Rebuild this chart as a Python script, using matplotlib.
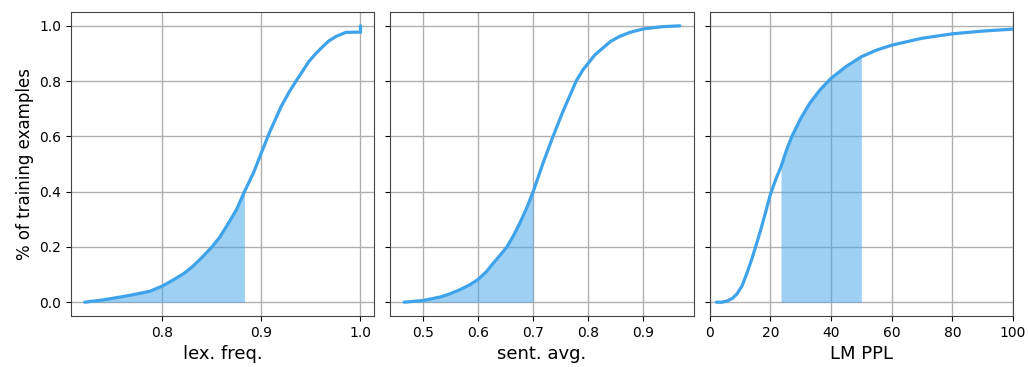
import matplotlib
matplotlib.use("Agg")
import matplotlib.pyplot as plt
from matplotlib.ticker import MultipleLocator

# CDF curves
lex_x = [0.722, 0.74, 0.76, 0.775, 0.788, 0.80, 0.81, 0.822, 0.83, 0.838, 0.85, 0.858,
         0.865, 0.875, 0.883, 0.892, 0.90, 0.908, 0.92, 0.928, 0.935, 0.948, 0.955,
         0.962, 0.968, 0.975, 0.985, 0.992, 1.0, 1.0]
lex_y = [0.0, 0.008, 0.02, 0.03, 0.04, 0.058, 0.078, 0.104, 0.127, 0.154, 0.199, 0.235,
         0.275, 0.335, 0.40, 0.467, 0.54, 0.612, 0.708, 0.76, 0.80, 0.871, 0.90,
         0.925, 0.945, 0.961, 0.976, 0.977, 0.977, 1.0]
lex_cut = 0.883

sent_x = [0.466, 0.50, 0.532, 0.55, 0.568, 0.585, 0.60, 0.615, 0.628, 0.64, 0.652,
          0.664, 0.676, 0.688, 0.70, 0.718, 0.736, 0.754, 0.766, 0.778, 0.79, 0.80,
          0.812, 0.826, 0.84, 0.856, 0.875, 0.90, 0.935, 0.966]
sent_y = [0.0, 0.006, 0.019, 0.031, 0.046, 0.063, 0.082, 0.11, 0.142, 0.17, 0.199,
          0.24, 0.287, 0.34, 0.40, 0.504, 0.60, 0.69, 0.745, 0.80, 0.84, 0.865,
          0.895, 0.919, 0.943, 0.961, 0.976, 0.989, 0.997, 1.0]
sent_cut = 0.70

ppl_x = [2.2, 4, 5.7, 7.5, 9.0, 10.7, 12.3, 13.7, 15.1, 16.5, 17.8, 20.0, 21.8, 23.5,
         25.3, 27.1, 30, 33, 36.5, 40.0, 45, 50, 55, 60, 70, 80, 90, 100]
ppl_y = [0.0, 0.0, 0.004, 0.014, 0.03, 0.06, 0.106, 0.15, 0.199, 0.25, 0.30, 0.39,
         0.445, 0.49, 0.55, 0.60, 0.665, 0.72, 0.77, 0.81, 0.853, 0.888, 0.912, 0.93,
         0.955, 0.971, 0.981, 0.988]
ppl_lo, ppl_hi = 23.5, 50

color = "#3ea3ea"

fig, axes = plt.subplots(1, 3, sharey=True, figsize=(10.29, 3.67), dpi=100)
fig.subplots_adjust(left=71/1029, right=1013/1029, top=1-12/367, bottom=1-316/367,
                    wspace=0.053)

panels = [
    (lex_x, lex_y, (lex_x[0], lex_cut), "lex. freq."),
    (sent_x, sent_y, (sent_x[0], sent_cut), "sent. avg."),
    (ppl_x, ppl_y, (ppl_lo, ppl_hi), "LM PPL"),
]

for ax, (x, y, (lo, hi), label) in zip(axes, panels):
    ax.set_axisbelow(True)
    ax.grid(True, color="#b0b0b0", linewidth=1)
    ax.plot(x, y, color=color, linewidth=2.3, zorder=3,
            solid_joinstyle="round", solid_capstyle="round")
    ax.fill_between(x, 0, y, where=[lo <= v <= hi for v in x], color=color,
                    alpha=0.5, linewidth=0, zorder=2)
    ax.set_xlabel(label, fontsize=13)
    ax.tick_params(labelsize=10)
    for s in ax.spines.values():
        s.set_color("#444444")

axes[0].xaxis.set_major_locator(MultipleLocator(0.1))
axes[2].set_xlim(0, 100)
axes[0].set_ylim(-0.05, 1.05)
axes[0].set_ylabel("% of training examples", fontsize=12)

plt.savefig("out.png", dpi=100)
